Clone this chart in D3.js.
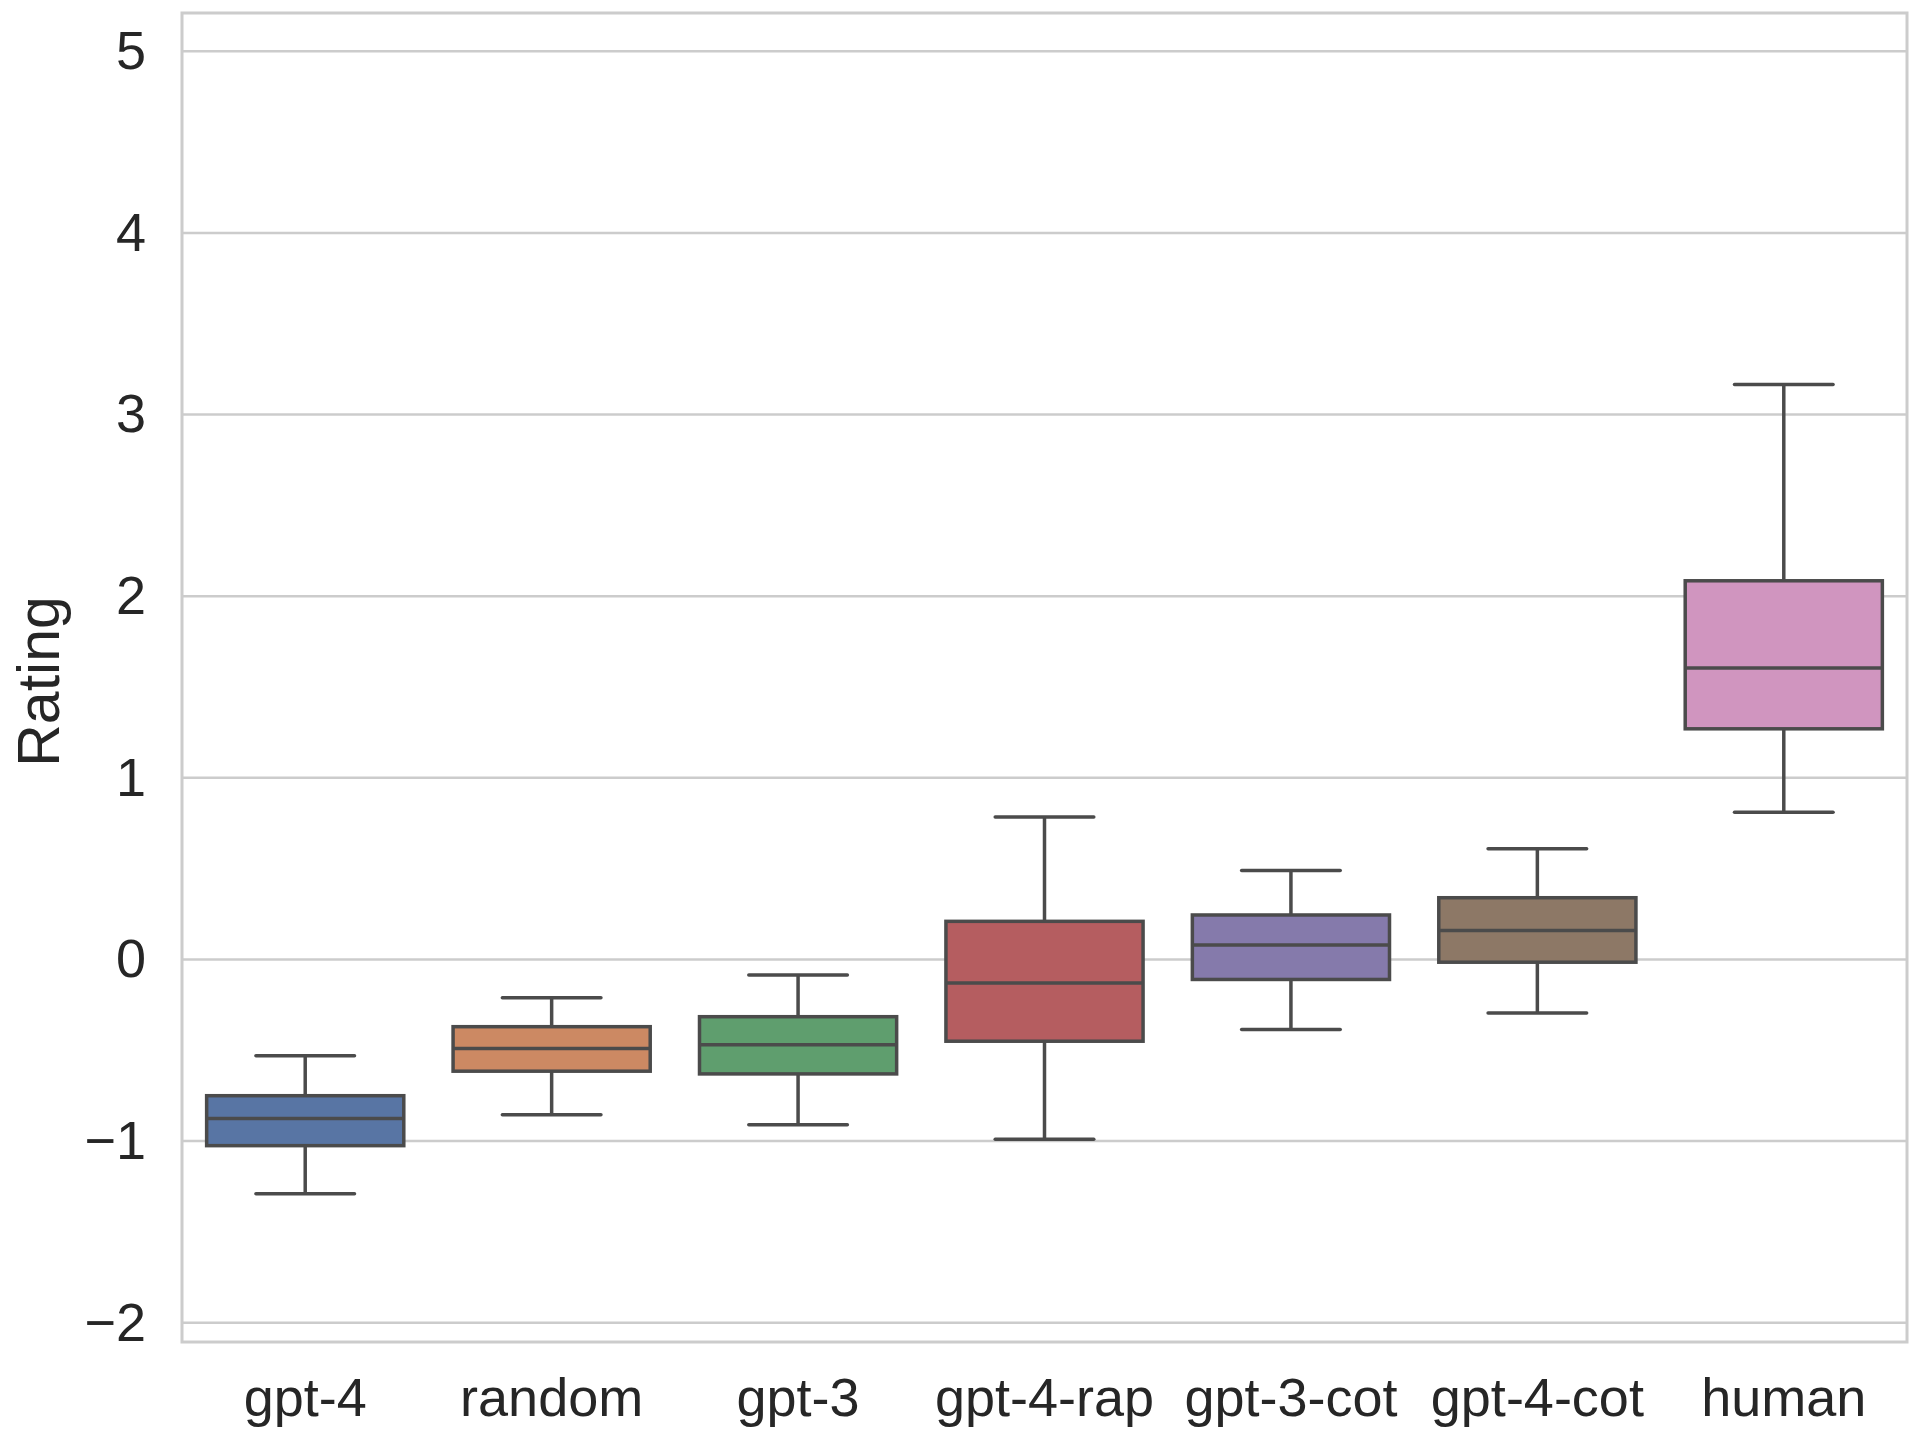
<!DOCTYPE html>
<html>
<head>
<meta charset="utf-8">
<script src="https://cdn.jsdelivr.net/npm/d3@7"></script>
<style>
  html, body { margin: 0; padding: 0; background: #ffffff; }
  svg { display: block; }
  text { font-family: "Liberation Sans", Arial, "Helvetica", sans-serif; fill: #262626; }
</style>
</head>
<body>
<svg id="chart" width="1920" height="1440"></svg>
<script>
const categories = ["gpt-4", "random", "gpt-3", "gpt-4-rap", "gpt-3-cot", "gpt-4-cot", "human"];
const whiskerHigh = [-0.53, -0.21, -0.085, 0.785, 0.49, 0.61, 3.165];
const q3 = [-0.75, -0.37, -0.315, 0.21, 0.245, 0.34, 2.085];
const medians = [-0.875, -0.49, -0.47, -0.13, 0.08, 0.16, 1.605];
const q1 = [-1.025, -0.615, -0.63, -0.45, -0.11, -0.015, 1.27];
const whiskerLow = [-1.29, -0.855, -0.91, -0.99, -0.385, -0.295, 0.81];
const colors = ["#5875a4", "#cc8963", "#5f9e6e", "#b55d60", "#857aab", "#8d7866", "#d095bf"];
const yTicks = [-2, -1, 0, 1, 2, 3, 4, 5];
const yLabel = "Rating";

const data = categories.map((c, i) => ({
  cat: c, lo: whiskerLow[i], q1: q1[i], med: medians[i], q3: q3[i], hi: whiskerHigh[i], color: colors[i]
}));

const svg = d3.select("#chart");
const mLeft = 182, mRight = 1907, mTop = 13, mBottom = 1342;

const x = d3.scaleBand().domain(categories).range([mLeft, mRight]).paddingInner(0).paddingOuter(0);
const y = d3.scaleLinear().domain([-2.106, 5.211]).range([mBottom, mTop]);

const gridColor = "#cccccc";
const lineColor = "#4b4b4b";
const lw = 3.5;

// gridlines
svg.append("g").selectAll("line").data(yTicks).join("line")
  .attr("x1", mLeft).attr("x2", mRight)
  .attr("y1", d => y(d)).attr("y2", d => y(d))
  .attr("stroke", gridColor).attr("stroke-width", 2.5);

// y axis tick labels
const yAxis = d3.axisLeft(y).tickValues(yTicks).tickSize(0).tickPadding(36)
  .tickFormat(d => d < 0 ? "\u2212" + Math.abs(d) : String(d));
const yg = svg.append("g").attr("transform", `translate(${mLeft},0)`).call(yAxis);
yg.select(".domain").remove();
yg.selectAll("text").attr("font-size", 54).attr("fill", "#262626")
  .style("font-family", '"Liberation Sans", Arial, sans-serif');

// x axis tick labels
const xAxis = d3.axisBottom(x).tickSize(0).tickPadding(36);
const xg = svg.append("g").attr("transform", `translate(0,${mBottom})`).call(xAxis);
xg.select(".domain").remove();
xg.selectAll("text").attr("font-size", 54).attr("fill", "#262626")
  .style("font-family", '"Liberation Sans", Arial, sans-serif');

// y label
svg.append("text")
  .attr("transform", `translate(59,${(mTop + mBottom) / 2 + 4}) rotate(-90)`)
  .attr("text-anchor", "middle")
  .attr("font-size", 59)
  .text(yLabel);

// boxes
const bw = x.bandwidth() * 0.8;
const capW = bw / 2;
const g = svg.append("g");
const boxes = g.selectAll("g.box").data(data).join("g").attr("class", "box");
const cx = d => x(d.cat) + x.bandwidth() / 2;

boxes.append("line")
  .attr("x1", cx).attr("x2", cx)
  .attr("y1", d => y(d.q3)).attr("y2", d => y(d.hi))
  .attr("stroke", lineColor).attr("stroke-width", lw);
boxes.append("line")
  .attr("x1", cx).attr("x2", cx)
  .attr("y1", d => y(d.q1)).attr("y2", d => y(d.lo))
  .attr("stroke", lineColor).attr("stroke-width", lw);
boxes.append("line")
  .attr("x1", d => cx(d) - capW / 2).attr("x2", d => cx(d) + capW / 2)
  .attr("y1", d => y(d.hi)).attr("y2", d => y(d.hi))
  .attr("stroke", lineColor).attr("stroke-width", lw).attr("stroke-linecap", "round");
boxes.append("line")
  .attr("x1", d => cx(d) - capW / 2).attr("x2", d => cx(d) + capW / 2)
  .attr("y1", d => y(d.lo)).attr("y2", d => y(d.lo))
  .attr("stroke", lineColor).attr("stroke-width", lw).attr("stroke-linecap", "round");
boxes.append("rect")
  .attr("x", d => cx(d) - bw / 2).attr("width", bw)
  .attr("y", d => y(d.q3)).attr("height", d => y(d.q1) - y(d.q3))
  .attr("fill", d => d.color)
  .attr("stroke", lineColor).attr("stroke-width", lw);
boxes.append("line")
  .attr("x1", d => cx(d) - bw / 2).attr("x2", d => cx(d) + bw / 2)
  .attr("y1", d => y(d.med)).attr("y2", d => y(d.med))
  .attr("stroke", lineColor).attr("stroke-width", lw);

// frame
svg.append("rect")
  .attr("x", mLeft).attr("y", mTop)
  .attr("width", mRight - mLeft).attr("height", mBottom - mTop)
  .attr("fill", "none").attr("stroke", gridColor).attr("stroke-width", 3);
</script>
</body>
</html>
